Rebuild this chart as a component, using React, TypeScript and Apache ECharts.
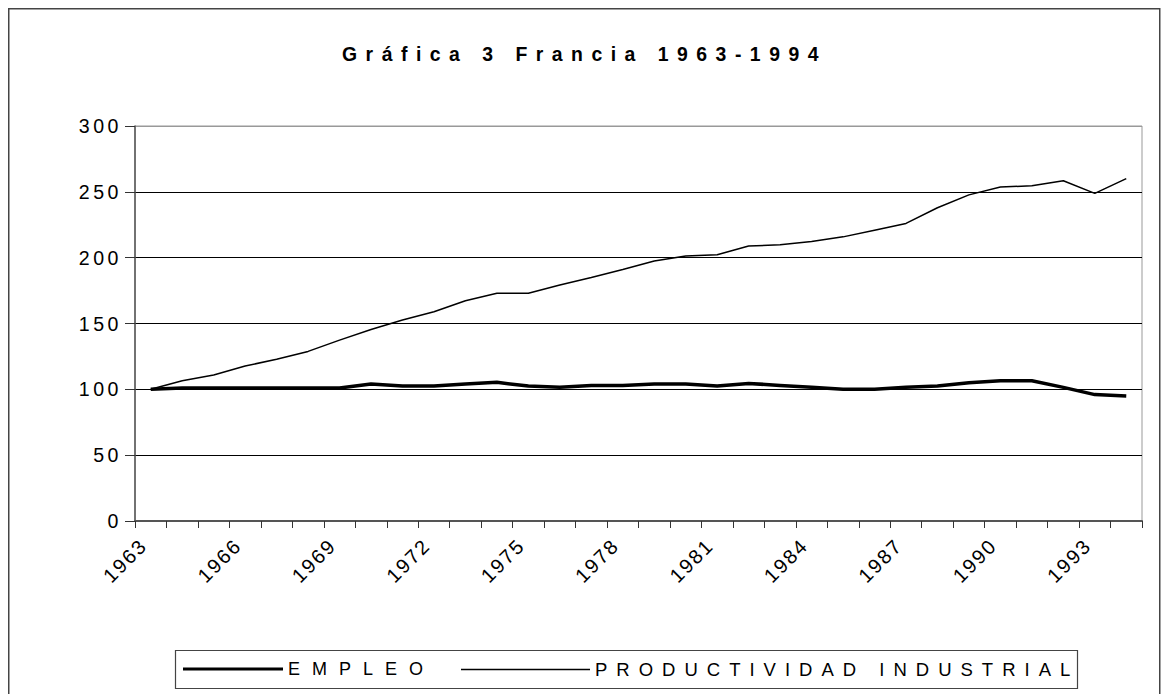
import React, { useEffect, useRef } from 'react';
import * as echarts from 'echarts';

const chartTitle = 'Gráfica 3 Francia 1963-1994';
const years = [
  '1963', '1964', '1965', '1966', '1967', '1968', '1969', '1970',
  '1971', '1972', '1973', '1974', '1975', '1976', '1977', '1978',
  '1979', '1980', '1981', '1982', '1983', '1984', '1985', '1986',
  '1987', '1988', '1989', '1990', '1991', '1992', '1993', '1994',
];
const empleo = [
  100, 101, 101, 101, 101, 101, 101, 104,
  102.5, 102.5, 104, 105.3, 102.5, 101.5, 103, 103,
  104, 104, 102.5, 104.5, 103, 101.5, 100, 100,
  101.5, 102.5, 105, 106.5, 106.5, 101.5, 96, 95,
];
const productividad = [
  100, 106.5, 110.9, 117.7, 122.8, 128.8, 137.4, 145.5,
  152.6, 158.9, 167.3, 172.9, 172.9, 179.2, 185, 191,
  197.4, 201.2, 202.2, 208.8, 209.8, 212.3, 215.8, 220.9,
  226, 237.9, 247.7, 253.6, 254.6, 258.4, 248.8, 260,
];
const seriesNames = ['EMPLEO', 'PRODUCTIVIDAD INDUSTRIAL'];
const yMin = 0;
const yMax = 300;
const yStep = 50;
const xLabelEvery = 3;

const css = `
.fr-chart text[style*="19.4px"] { letter-spacing: 8.5px; }
.fr-chart text[style*="19.6px"] { letter-spacing: 3.5px; }
.fr-chart text[style*="20px"] { letter-spacing: 2px; }
.fr-chart text[style*="18px"] { letter-spacing: 12px; }
.fr-chart text[style*="18.5px"] { letter-spacing: 9px; }
`;

export default function App() {
  const ref = useRef<HTMLDivElement>(null);
  useEffect(() => {
    const chart = echarts.init(ref.current as HTMLDivElement, null, { renderer: 'svg' });
    const font = 'Arial';
    chart.setOption({
      animation: false,
      backgroundColor: '#fff',
      title: {
        text: chartTitle,
        left: 'center',
        top: 31,
        textStyle: { fontSize: 19.4, fontWeight: 'bold', fontFamily: font, color: '#000' },
      },
      legend: [
        {
          data: [seriesNames[0]],
          left: 170,
          top: 647,
          icon: 'rect',
          itemWidth: 100,
          itemHeight: 3,
          textStyle: { fontSize: 18, fontFamily: font, color: '#000' },
        },
        {
          data: [seriesNames[1]],
          left: 448,
          top: 647,
          icon: 'rect',
          itemWidth: 129,
          itemHeight: 1.5,
          textStyle: { fontSize: 18.5, fontFamily: font, color: '#000' },
        },
      ],
      grid: {
        left: 127,
        right: 19,
        top: 118,
        bottom: 173,
        containLabel: false,
        outerBoundsMode: 'none',
        show: true,
        borderColor: '#999',
        borderWidth: 1,
      },
      xAxis: {
        type: 'category',
        data: years,
        boundaryGap: true,
        axisLine: { lineStyle: { color: '#555', width: 2 } },
        axisTick: { show: true, interval: 0, length: 7, lineStyle: { color: '#333' } },
        axisLabel: {
          interval: xLabelEvery - 1,
          rotate: 45,
          margin: 14,
          padding: [0, 10, 0, 0],
          fontSize: 20,
          fontFamily: font,
          color: '#000',
        },
        splitLine: { show: false },
      },
      yAxis: {
        type: 'value',
        min: yMin,
        max: yMax,
        interval: yStep,
        axisLine: { show: true, lineStyle: { color: '#555', width: 1.5 } },
        axisTick: { show: true, length: 10, lineStyle: { color: '#333' } },
        axisLabel: { fontSize: 19.6, fontFamily: font, color: '#000', margin: 13 },
        splitLine: {
          lineStyle: { color: ['#000', '#000', '#000', '#000', '#000', '#000', '#999'], width: 1 },
        },
      },
      graphic: [
        {
          type: 'rect',
          silent: true,
          shape: { x: 0.75, y: 0.75, width: 1151, height: 720 },
          style: { fill: 'none', stroke: '#444', lineWidth: 1.5 },
        },
        {
          type: 'rect',
          silent: true,
          shape: { x: 167.5, y: 642.5, width: 902, height: 38 },
          style: { fill: 'none', stroke: '#444', lineWidth: 1.2 },
        },
      ],
      series: [
        {
          name: seriesNames[0],
          type: 'line',
          data: empleo,
          symbol: 'none',
          showSymbol: false,
          color: '#000',
          lineStyle: { color: '#000', width: 3.5 },
          itemStyle: { color: '#000' },
        },
        {
          name: seriesNames[1],
          type: 'line',
          data: productividad,
          symbol: 'none',
          showSymbol: false,
          color: '#000',
          lineStyle: { color: '#000', width: 1.5 },
          itemStyle: { color: '#000' },
        },
      ],
    });
    return () => chart.dispose();
  }, []);
  return (
    <>
      <style>{css}</style>
      <div
        ref={ref}
        className="fr-chart"
        style={{ position: 'absolute', left: 8, top: 8, width: 1153, height: 686 }}
      />
    </>
  );
}
